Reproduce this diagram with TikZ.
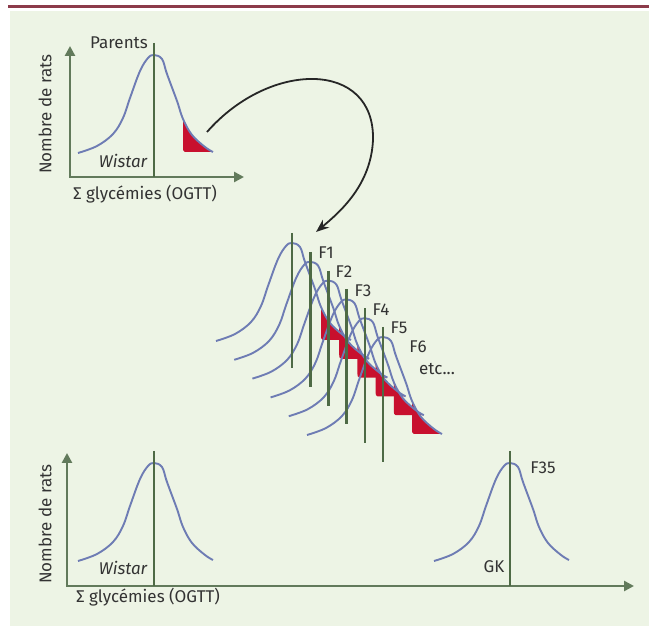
\documentclass[tikz,border=0pt]{standalone}
\usepackage{fontspec}
\setmainfont{Fira Sans}
\usetikzlibrary{arrows.meta, positioning, calc}
\definecolor{cbg}{HTML}{EDF4E5}
\definecolor{cbar}{HTML}{8C3B4A}
\definecolor{caxis}{HTML}{627A5B}
\definecolor{cline}{HTML}{4E6A45}
\definecolor{ccurve}{HTML}{6E7CB4}
\definecolor{cred}{HTML}{C8102E}
\definecolor{ctext}{HTML}{333333}
\tikzset{
  every picture/.style={x=1pt, y=-1pt},
  lbl/.style={font=\fontsize{17}{19}\selectfont, text=ctext, inner sep=0pt},
  axis/.style={draw=caxis, line width=2.8pt, {Triangle[length=10pt, width=10pt]}-{Triangle[length=10pt, width=10pt]}},
  mid/.style={draw=cline, line width=2.6pt},
  bell/.style={draw=ccurve, line width=1.9pt, line join=round},
  tail/.style={fill=cred},
  bigarrow/.style={draw=black!85, line width=1.8pt, -{Stealth[length=13pt, width=10pt]}},
  pics/bellcurve/.style={code={
    \draw[bell] plot[smooth, tension=.6] coordinates {(-76,98) (-57,91) (-41,79) (-31,63) (-24,43) (-14,16) (-6,3) (0,0) (8,4) (13,19) (23,46) (29,64) (38,80) (51,92) (59,97)};
  }},
  pics/belltail/.style={code={
    \fill[tail] plot[smooth, tension=.6] coordinates {(29,64) (38,80) (51,92) (59,97)} -- (31,97) to[out=180, in=-90] (29,93) -- cycle;
  }},
}
\begin{document}
\begin{tikzpicture}
  \useasboundingbox (0,0) rectangle (649,628);
  \fill[cbg] (10,11) rectangle (649,626);
  \fill[cbar] (8,5) rectangle (649,8.5);
  % ---- parents ----
  \coordinate (parents) at (154,55);
  \coordinate (o1) at (70,177);
  \coordinate (ytop1) at (70,46);
  \coordinate (xend1) at (244,177);
  \pic at (parents) {belltail};
  \pic at (parents) {bellcurve};
  \draw[axis] (ytop1) |- (xend1);
  \draw[mid] (parents) ++(0,-12) -- (parents |- o1);
  \node[lbl] (parentslbl) at (119,43) {Parents};
  \node[lbl, font=\fontsize{17}{19}\selectfont\itshape] (wistar1) at (123,161) {Wistar};
  \node[lbl] (xlbl1) at (145,194) {Σ glycémies (OGTT)};
  \node[lbl, rotate=90] (ylbl1) at (45,114) {Nombre de rats};
  % ---- generations ----
  \foreach \i in {0,...,5} \coordinate (g\i) at (292+18.2*\i, 243+18.8*\i);
  \foreach \i in {0,...,5} \pic at (g\i) {belltail};
  \foreach \i in {0,...,5} \pic at (g\i) {bellcurve};
  \foreach \i in {0,...,5} \draw[mid] (g\i) ++(0,-10) -- ++(0,135);
  \foreach \n/\x/\y in {1/326/253, 2/344/272, 3/363/291, 4/381/310, 5/399/328, 6/418/347}
    \node[lbl] (f\n) at (\x,\y) {F\n};
  \node[lbl] (etc) at (437,369) {etc...};
  \coordinate (tailtip) at (207,132);
  \coordinate (cascade) at (316,232);
  \draw[bigarrow] (tailtip) .. controls (270,60) and (375,60) .. (373,140) .. controls (371,185) and (340,212) .. (cascade);
  % ---- wistar vs gk ----
  \coordinate (wistar) at (154,463);
  \coordinate (gk) at (510,463);
  \coordinate (o2) at (67,586);
  \coordinate (ytop2) at (67,453);
  \coordinate (xend2) at (634,586);
  \pic at (wistar) {bellcurve};
  \pic at (gk) {bellcurve};
  \draw[axis] (ytop2) |- (xend2);
  \draw[mid] (wistar) ++(0,-12) -- (wistar |- o2);
  \draw[mid] (gk) ++(0,-12) -- (gk |- o2);
  \node[lbl, font=\fontsize{17}{19}\selectfont\itshape] (wistar2) at (123,568) {Wistar};
  \node[lbl] (gklbl) at (494,567) {GK};
  \node[lbl] (f35) at (543,468) {F35};
  \node[lbl] (xlbl2) at (148,597) {Σ glycémies (OGTT)};
  \node[lbl, rotate=90] (ylbl2) at (45,524) {Nombre de rats};
\end{tikzpicture}
\end{document}
